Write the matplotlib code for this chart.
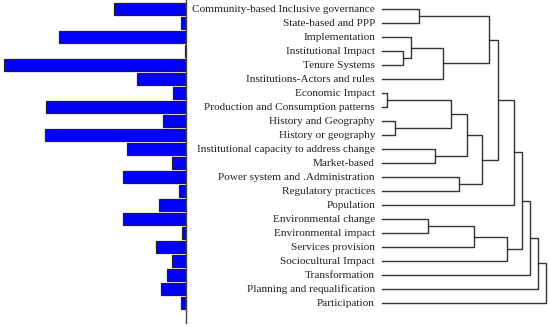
import numpy as np
import matplotlib
matplotlib.use("Agg")
import matplotlib.pyplot as plt

# leaf labels, top to bottom
labels = [
    "Community-based Inclusive governance",
    "State-based and PPP",
    "Implementation",
    "Institutional Impact",
    "Tenure Systems",
    "Institutions-Actors and rules",
    "Economic Impact",
    "Production and Consumption patterns",
    "History and Geography",
    "History or geography",
    "Institutional capacity to address change",
    "Market-based",
    "Power system and .Administration",
    "Regulatory practices",
    "Population",
    "Environmental change",
    "Environmental impact",
    "Services provision",
    "Sociocultural Impact",
    "Transformation",
    "Planning and requalification",
    "Participation",
]

# bar lengths
bar_values = [72, 5, 127, 1, 182, 49, 13, 140, 23, 141, 59, 14,
              63, 7, 27, 63, 4, 30, 14, 19, 25, 5]

# dendrogram merges: (cluster a, cluster b, height); new clusters numbered from 22
merges = [
    (0, 1, 37.0),
    (3, 4, 20.7),
    (2, 23, 28.7),
    (5, 24, 61.0),
    (22, 25, 107.3),
    (6, 7, 4.7),
    (8, 9, 13.0),
    (27, 28, 68.7),
    (10, 11, 53.0),
    (29, 30, 84.7),
    (12, 13, 76.7),
    (31, 32, 99.7),
    (26, 33, 115.7),
    (14, 34, 132.0),
    (15, 16, 45.7),
    (36, 17, 92.3),
    (37, 18, 124.7),
    (35, 38, 140.3),
    (39, 19, 148.3),
    (40, 20, 156.3),
    (41, 21, 164.0),
]

W, H = 550, 327
n = len(labels)
rows = np.arange(n)
ylo = (H - 9) / 14.0
yhi = -9 / 14.0

fig = plt.figure(figsize=(W / 100, H / 100), dpi=100)

# bars on the left
axb = fig.add_axes([0, 0, 186 / W, 1])
axb.barh(rows, bar_values, height=0.8, color="#0000ff", edgecolor="#222222", linewidth=0.9)
axb.set_xlim(186, 0)
axb.set_ylim(ylo, yhi)
for s in ["top", "left", "bottom"]:
    axb.spines[s].set_visible(False)
axb.spines["right"].set_color("#444444")
axb.spines["right"].set_linewidth(1.0)
axb.spines["right"].set_bounds(yhi, (323 - 9) / 14.0)
axb.set_xticks([])
axb.set_yticks([])

# dendrogram on the right
axd = fig.add_axes([376 / W, 0, 174 / W, 1])
axd.set_xlim(-6, 168)
axd.set_ylim(ylo, yhi)
axd.axis("off")

pos = {i: (float(i), 0.0) for i in range(n)}
for k, (a, b, h) in enumerate(merges):
    ya, ha = pos[a]
    yb, hb = pos[b]
    axd.plot([ha, h, h, hb], [ya, ya, yb, yb], color="#333333", lw=1.0,
             solid_joinstyle="miter")
    pos[n + k] = ((ya + yb) / 2, h)

for i, lab in enumerate(labels):
    axd.text(-7, i, lab, ha="right", va="center", fontsize=8.1,
             family="Liberation Serif", color="#222222")

fig.savefig("out.png", dpi=100)
